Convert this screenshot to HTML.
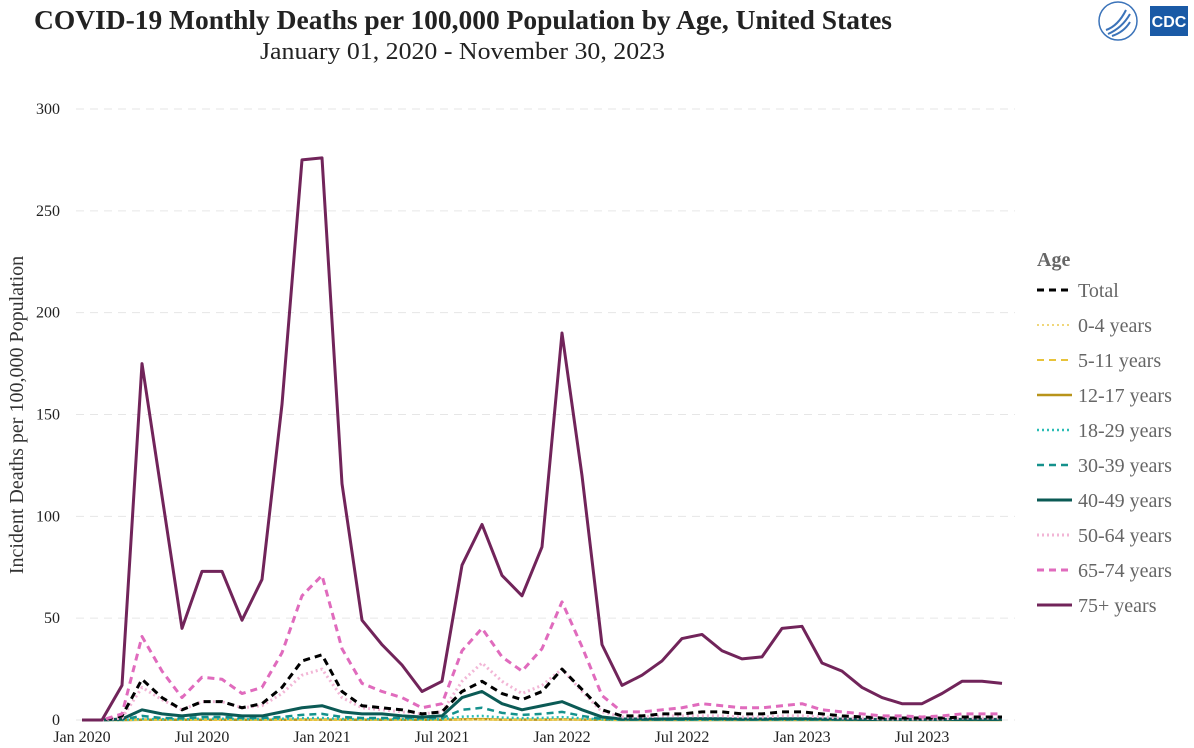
<!DOCTYPE html>
<html><head><meta charset="utf-8"><style>
html,body{margin:0;padding:0;background:#fff;}
svg{display:block;font-family:"Liberation Serif",serif;}
</style></head><body>
<svg id="chart" width="1194" height="748" viewBox="0 0 1194 748">
<text x="34" y="29" font-size="27" font-weight="bold" fill="#222" textLength="858" lengthAdjust="spacingAndGlyphs">COVID-19 Monthly Deaths per 100,000 Population by Age, United States</text>
<text x="260" y="59" font-size="24" fill="#222" textLength="405" lengthAdjust="spacingAndGlyphs">January 01, 2020 - November 30, 2023</text>
<g>
<circle cx="1118" cy="21" r="19" fill="none" stroke="#3b73b9" stroke-width="1.5"/>
<path d="M1106 30 Q1118 26 1126 10 M1108 34 Q1122 28 1130 14 M1112 36 Q1124 32 1130 22" stroke="#3b73b9" stroke-width="2" fill="none"/>
<rect x="1150" y="6" width="38" height="30" fill="#1a5aa6"/>
<text x="1169" y="27" font-size="16" font-weight="bold" fill="#fff" text-anchor="middle" font-family="Liberation Sans, sans-serif">CDC</text>
</g>
<g id="grid"></g>
<g id="series"></g>
<text transform="translate(23,415) rotate(-90)" font-size="20" fill="#333" text-anchor="middle">Incident Deaths per 100,000 Population</text>
<g id="legend">
<text x="1037" y="266" font-size="20" font-weight="bold" fill="#666">Age</text>
</g>
</svg>
<script>
const yTicks = [0, 50, 100, 150, 200, 250, 300];
const xTickLabels = ["Jan 2020","Jul 2020","Jan 2021","Jul 2021","Jan 2022","Jul 2022","Jan 2023","Jul 2023"];
const xTickMonths = [0, 6, 12, 18, 24, 30, 36, 42];
const seriesNames = ["Total","0-4 years","5-11 years","12-17 years","18-29 years","30-39 years","40-49 years","50-64 years","65-74 years","75+ years"];
const total = [0,0,2,20,11,5,9,9,6,8,16,29,32,14,7,6,5,3,4,14,19,13,10,14,25,15,5,2,2,3,3,4,4,3,3,4,4,3,2,1.5,1,1,1,1,1.5,1.5,1.5];
const age0_4 = [0,0,0,0.1,0.1,0.1,0.1,0.1,0.1,0.1,0.1,0.1,0.1,0.1,0.1,0.1,0.1,0.1,0.1,0.2,0.2,0.1,0.1,0.2,0.3,0.2,0.1,0.1,0.1,0.1,0.1,0.1,0.1,0.1,0.1,0.1,0.1,0.1,0.1,0.1,0.1,0.1,0.1,0.1,0.1,0.1,0.1];
const age5_11 = [0,0,0,0,0,0,0,0,0,0,0,0,0,0,0,0,0,0,0,0.1,0.1,0.1,0.1,0.1,0.1,0.1,0,0,0,0,0,0,0,0,0,0,0,0,0,0,0,0,0,0,0,0,0];
const age12_17 = [0,0,0,0.1,0.1,0.1,0.1,0.1,0.1,0.1,0.1,0.2,0.2,0.1,0.1,0.1,0.1,0.1,0.1,0.3,0.4,0.2,0.2,0.2,0.3,0.2,0.1,0,0,0,0,0,0,0,0,0,0,0,0,0,0,0,0,0,0,0,0];
const age18_29 = [0,0,0,0.5,0.4,0.3,0.6,0.6,0.4,0.4,0.6,0.9,1,0.5,0.4,0.4,0.4,0.3,0.4,1.6,2,1.2,0.9,1,1.4,0.8,0.3,0.1,0.1,0.1,0.1,0.1,0.1,0.1,0.1,0.1,0.1,0.1,0.1,0.1,0.1,0.1,0.1,0.1,0.1,0.1,0.1];
const age30_39 = [0,0,0.2,2,1,0.8,1.5,1.5,1,1,1.5,2.5,3,1.5,1,1,1,0.8,1,5,6,3.5,2.5,3,4,2,0.5,0.2,0.2,0.2,0.2,0.3,0.3,0.2,0.2,0.3,0.3,0.2,0.2,0.2,0.2,0.2,0.2,0.2,0.2,0.2,0.2];
const age40_49 = [0,0,0.5,5,3,2,3,3,2,2,4,6,7,4,3,3,2,1.5,2,11,14,8,5,7,9,5,1.5,0.5,0.5,0.5,0.6,0.7,0.6,0.5,0.5,0.6,0.6,0.5,0.4,0.3,0.3,0.3,0.3,0.3,0.3,0.3,0.3];
const age50_64 = [0,0,1,16,10,5,9,9,6,7,13,22,25,11,6,5,4,3,4,19,28,19,13,17,25,14,4,1.5,1.5,2,2,2,2,1.5,1.5,2,2,1.5,1,1,0.5,0.5,0.5,0.5,1,1,1];
const age65_74 = [0,0,3,41,24,11,21,20,13,16,33,61,71,35,18,14,11,6,8,34,45,31,24,35,58,36,12,4,4,5,6,8,7,6,6,7,8,5,4,3,2,2,1.5,2,3,3,3];
const age75 = [0,0,17,175,110,45,73,73,49,69,155,275,276,116,49,37,27,14,19,76,96,71,61,85,190,120,37,17,22,29,40,42,34,30,31,45,46,28,24,16,11,8,8,13,19,19,18];

const NS="http://www.w3.org/2000/svg";
function x(m){return 82+m*20;}
function y(v){return 720-v*(611/300);}
function mk(t,a,p){const e=document.createElementNS(NS,t);for(const k in a)e.setAttribute(k,a[k]);p.appendChild(e);return e;}
const grid=document.getElementById('grid');
yTicks.forEach(v=>{
  const l=mk('line',{x1:76,x2:1015,y1:y(v),y2:y(v),stroke:'#e6e6e6','stroke-width':1,'stroke-dasharray':'8,6'},grid);
  
  
  const t=mk('text',{x:60,y:y(v)+5,'font-size':16,fill:'#222','text-anchor':'end'},grid);
  t.textContent=v;
  
  
});
xTickLabels.forEach((s,i)=>{
  const t=mk('text',{x:x(xTickMonths[i]),y:742,'font-size':16,fill:'#222','text-anchor':'middle'},grid);
  t.textContent=s;
  
  
});
const styles=[
 {d:total,c:'#000',dash:'7,5',w:3},
 {d:age0_4,c:'#f0d77a',dash:'2,3',w:2},
 {d:age5_11,c:'#e8c33a',dash:'7,5',w:2},
 {d:age12_17,c:'#b8941a',dash:'',w:2.5},
 {d:age18_29,c:'#2bbdb5',dash:'2,3',w:2.5},
 {d:age30_39,c:'#15918c',dash:'7,5',w:2.5},
 {d:age40_49,c:'#0b5a55',dash:'',w:3},
 {d:age50_64,c:'#f2b6d6',dash:'2,3',w:3},
 {d:age65_74,c:'#e06bbd',dash:'7,5',w:3},
 {d:age75,c:'#71245a',dash:'',w:3}
];
const ser=document.getElementById('series');
const order=[3,2,1,4,5,6,7,0,8,9];
order.forEach(i=>{
  const s=styles[i];
  const pts=s.d.map((v,m)=>x(m)+','+y(v)).join(' ');
  const p=mk('polyline',{points:pts,fill:'none',stroke:s.c,'stroke-width':s.w,'stroke-linejoin':'round'},ser);
  if(s.dash)p.setAttribute('stroke-dasharray',s.dash);
  
  
});
const leg=document.getElementById('legend');
styles.forEach((s,i)=>{
  const yy=290+i*35;
  const g=mk('g',{},leg);
  
  
  const l=mk('line',{x1:1037,x2:1072,y1:yy,y2:yy,stroke:s.c,'stroke-width':s.w},g);
  if(s.dash)l.setAttribute('stroke-dasharray',s.dash);
  const t=mk('text',{x:1078,y:yy+7,'font-size':20,fill:'#666'},g);
  t.textContent=seriesNames[i];
});
</script>
</body></html>
